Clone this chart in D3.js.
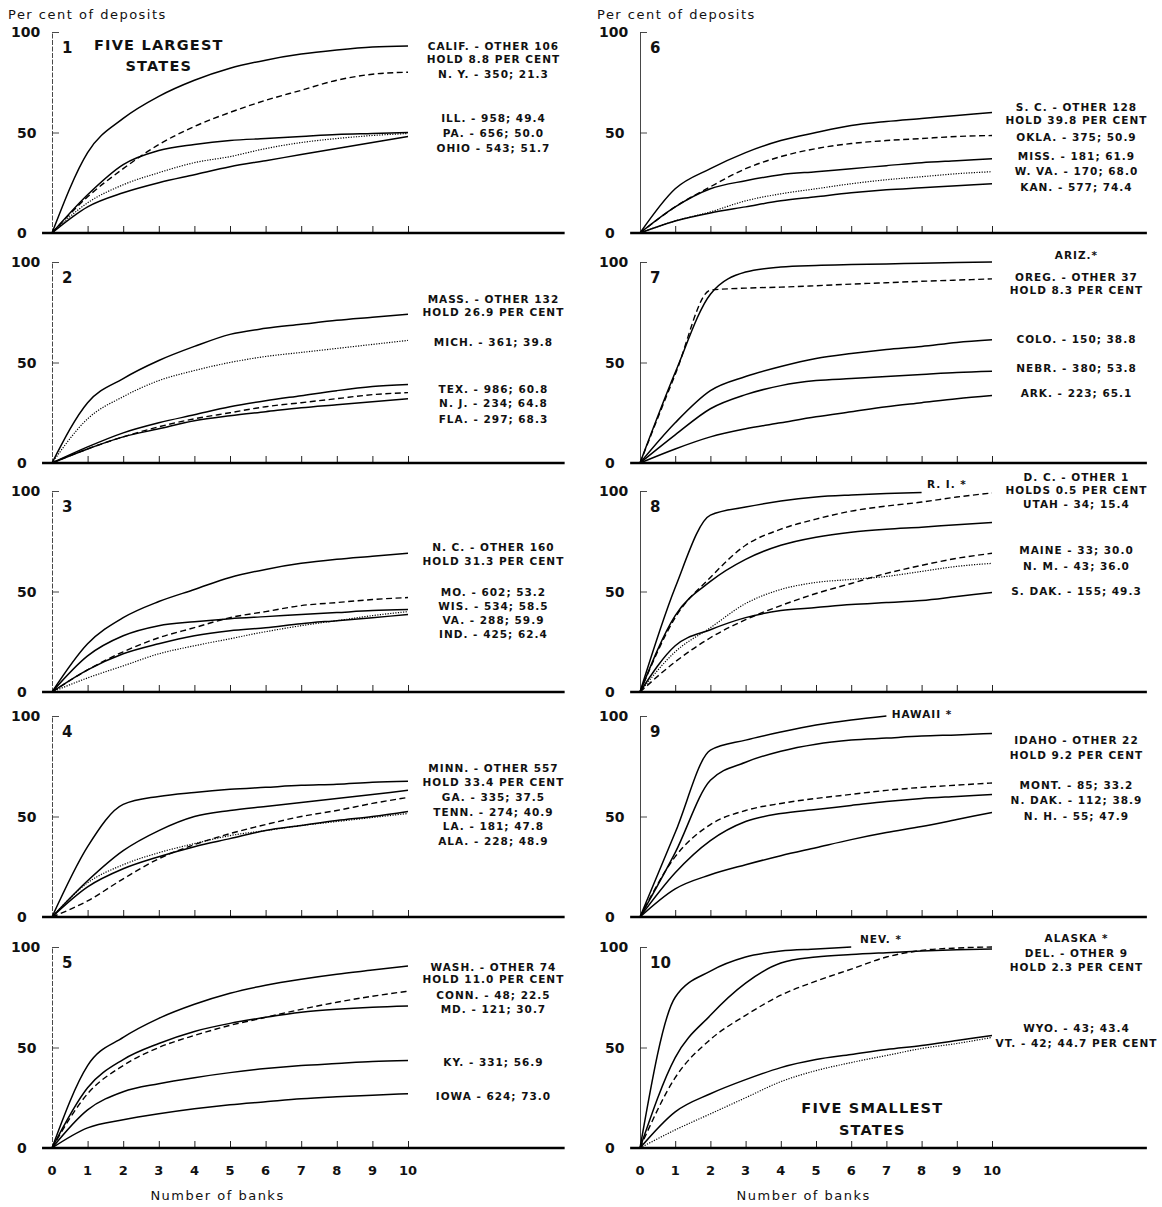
<!DOCTYPE html>
<html>
<head>
<meta charset="utf-8">
<script src="https://cdn.jsdelivr.net/npm/d3@7"></script>
<style>
body { margin: 0; background: #fff; }
svg { display: block; }
.note { font-family: 'DejaVu Sans', sans-serif; font-weight: bold; font-size: 10.5px; letter-spacing: 1px; fill: #111; }
.big { font-family: 'DejaVu Sans', sans-serif; font-weight: bold; font-size: 14.5px; letter-spacing: 1.2px; fill: #111; }
.num { font-family: 'DejaVu Sans', sans-serif; font-weight: bold; font-size: 15px; fill: #111; }
.tick-lbl { font-family: 'DejaVu Sans', sans-serif; font-weight: bold; font-size: 14px; fill: #111; }
.caption { font-family: 'DejaVu Sans', sans-serif; font-size: 13px; letter-spacing: 1.5px; fill: #111; }
</style>
</head>
<body>
<div id="chart"></div>
<script>
const banks = d3.range(0, 11)
const yTicks = [0, 50, 100]

// 1 - five largest states
const p1Values = [
  [0, 40, 57, 68, 76, 82, 86, 89, 91, 92.5, 93],
  [0, 18, 32, 44, 53, 60, 66, 71, 76, 79, 80],
  [0, 19, 34, 41, 44, 46, 47, 48, 49, 49.5, 50],
  [0, 15, 24, 30, 35, 38, 42, 45, 47, 48.5, 49.5],
  [0, 13, 20, 25, 29, 33, 36, 39, 42, 45, 48]
]
const p1Notes = ['CALIF. - OTHER 106', 'HOLD 8.8 PER CENT', 'N. Y. - 350; 21.3', 'ILL. - 958; 49.4', 'PA. - 656; 50.0', 'OHIO - 543; 51.7']

// 2
const p2Values = [
  [0, 30, 42, 51, 58, 64, 67, 69, 71, 72.5, 74],
  [0, 22, 33, 41, 46, 50, 53, 55, 57, 59, 61],
  [0, 8, 15, 20, 24, 28, 31, 33.5, 36, 38, 39],
  [0, 7, 13, 18, 22, 25, 28, 30, 32, 34, 35],
  [0, 7, 13, 17, 21, 23.5, 25.5, 27.5, 29, 30.5, 32]
]
const p2Notes = ['MASS. - OTHER 132', 'HOLD 26.9 PER CENT', 'MICH. - 361; 39.8', 'TEX. - 986; 60.8', 'N. J. - 234; 64.8', 'FLA. - 297; 68.3']

// 3
const p3Values = [
  [0, 24, 37, 45, 51, 57, 61, 64, 66, 67.5, 69],
  [0, 11, 20, 27, 32, 37, 40, 43, 44.5, 46, 47],
  [0, 18, 28, 33, 35, 36.5, 37.5, 38.5, 39.5, 40.5, 41],
  [0, 7, 13, 19, 23, 26.5, 30, 33, 35.5, 38, 40],
  [0, 11, 19, 24, 28, 30.5, 32, 34, 35.5, 37, 38.5]
]
const p3Notes = ['N. C. - OTHER 160', 'HOLD 31.3 PER CENT', 'MO. - 602; 53.2', 'WIS. - 534; 58.5', 'VA. - 288; 59.9', 'IND. - 425; 62.4']

// 4
const p4Values = [
  [0, 35, 56, 60, 62, 63.5, 64.5, 65.5, 66, 67, 67.5],
  [0, 18, 33, 43, 50, 53, 55, 57, 59, 61, 63],
  [0, 8, 19, 29, 36, 41.5, 46, 50, 53, 56.5, 59.5],
  [0, 15, 24, 30, 35, 39, 43, 45.5, 48, 50, 52.5],
  [0, 17, 26, 32, 36.5, 40.5, 43, 45.5, 47.5, 49.5, 51.5]
]
const p4Notes = ['MINN. - OTHER 557', 'HOLD 33.4 PER CENT', 'GA. - 335; 37.5', 'TENN. - 274; 40.9', 'LA. - 181; 47.8', 'ALA. - 228; 48.9']

// 5
const p5Values = [
  [0, 41, 55, 64.5, 71.5, 77, 81, 84, 86.5, 88.5, 90.5],
  [0, 27, 41, 50, 56, 61, 65, 69, 72.5, 75.5, 78],
  [0, 30, 44, 52, 58, 62, 65, 67.5, 69, 70, 70.6],
  [0, 19, 28, 32, 35, 37.5, 39.5, 41, 42, 43, 43.5],
  [0, 10, 14, 17, 19.5, 21.5, 23, 24.5, 25.5, 26.3, 27]
]
const p5Notes = ['WASH. - OTHER 74', 'HOLD 11.0 PER CENT', 'CONN. - 48; 22.5', 'MD. - 121; 30.7', 'KY. - 331; 56.9', 'IOWA - 624; 73.0']

// 6
const p6Values = [
  [0, 22, 32, 40, 46, 50, 53.5, 55.5, 57, 58.5, 60],
  [0, 13, 23, 32, 38, 42, 44.5, 46, 47, 48, 48.5],
  [0, 13, 22, 26, 29, 30.5, 32, 33.5, 35, 36, 37],
  [0, 6, 10.5, 16, 19.5, 22, 24.5, 26.5, 28, 29.5, 30.5],
  [0, 6, 10, 13, 16, 18, 20, 21.5, 22.5, 23.5, 24.5]
]
const p6Notes = ['S. C. - OTHER 128', 'HOLD 39.8 PER CENT', 'OKLA. - 375; 50.9', 'MISS. - 181; 61.9', 'W. VA. - 170; 68.0', 'KAN. - 577; 74.4']

// 7
const p7Values = [
  [0, 45, 84, 95, 97.5, 98.3, 98.7, 99, 99.4, 99.7, 100],
  [0, 44, 86, 87, 87.5, 88.2, 89, 89.7, 90.4, 91, 91.6],
  [0, 20, 36, 43, 48, 52, 54.5, 56.5, 58, 60, 61.3],
  [0, 14, 27, 34, 38.5, 41, 42, 43, 44, 45, 45.6],
  [0, 7, 13, 17, 20, 23, 25.5, 28, 30, 32, 33.6]
]
const p7Notes = ['ARIZ.*', 'OREG. - OTHER 37', 'HOLD 8.3 PER CENT', 'COLO. - 150; 38.8', 'NEBR. - 380; 53.8', 'ARK. - 223; 65.1']

// 8
const p8Values = [
  [0, 52, 88, 92, 95, 97, 98, 98.7, 99.2],
  [0, 37, 57, 73, 81, 86, 90, 92.5, 94.5, 97, 99],
  [0, 38, 55, 66, 73, 77, 79.5, 81, 82, 83.2, 84.3],
  [0, 15, 27, 36, 43, 49, 54, 59, 63, 66.5, 69],
  [0, 20, 32, 44, 51, 54.5, 56, 57.5, 60, 62.5, 64],
  [0, 23, 31, 37, 40.5, 42, 43.5, 44.5, 45.5, 47.5, 49.5]
]
const p8Notes = ['D. C. - OTHER 1', 'HOLDS 0.5 PER CENT', 'UTAH - 34; 15.4', 'MAINE - 33; 30.0', 'N. M. - 43; 36.0', 'S. DAK. - 155; 49.3']
const p8Tag = 'R. I. *'

// 9
const p9Values = [
  [0, 42, 83, 88, 92, 95.5, 98, 100],
  [0, 32, 68, 77, 82.5, 86, 88, 89, 90, 90.6, 91.3],
  [0, 30, 46, 53, 56.5, 59, 61, 63, 64.5, 65.6, 66.7],
  [0, 22, 38, 47.5, 51.5, 53.5, 55.5, 57.5, 59, 60, 61],
  [0, 14, 21, 26, 30.5, 34.5, 38.5, 42, 45, 48.5, 52]
]
const p9Notes = ['IDAHO - OTHER 22', 'HOLD 9.2 PER CENT', 'MONT. - 85; 33.2', 'N. DAK. - 112; 38.9', 'N. H. - 55; 47.9']
const p9Tag = 'HAWAII *'

// 10 - five smallest states
const p10Values = [
  [0, 75, 88, 95, 98, 99, 100],
  [0, 45, 66, 82, 92, 95, 96.3, 97.2, 98, 98.6, 99],
  [0, 35, 54, 66, 76, 83, 89, 95, 98.3, 99.5, 100],
  [0, 18, 27, 34, 40, 44, 46.5, 49, 51, 53.5, 56],
  [0, 9, 17, 25, 33, 38.5, 42.5, 46, 49.5, 52, 55]
]
const p10Notes = ['ALASKA *', 'DEL. - OTHER 9', 'HOLD 2.3 PER CENT', 'WYO. - 43; 43.4', 'VT. - 42; 44.7 PER CENT']
const p10Tag = 'NEV. *'

// layout and line styles (y positions of notes are in per cent units)
const layout = [
  {num: '1', col: 0, base: 233, values: p1Values, lines: ['s', 'd', 's', 'o', 's'], notes: p1Notes, noteAt: [93, 86.5, 79, 57, 49.5, 42.2], title: ['FIVE LARGEST', 'STATES'], titleAt: [3.0, 93.5, 83]},
  {num: '2', col: 0, base: 463, values: p2Values, lines: ['s', 'o', 's', 'd', 's'], notes: p2Notes, noteAt: [81.5, 75, 60, 36.5, 29.5, 22]},
  {num: '3', col: 0, base: 692, values: p3Values, lines: ['s', 'd', 's', 'o', 's'], notes: p3Notes, noteAt: [72, 65.3, 49.5, 42.5, 35.5, 28.5]},
  {num: '4', col: 0, base: 917, values: p4Values, lines: ['s', 's', 'd', 's', 'o'], notes: p4Notes, noteAt: [74, 67.3, 59.5, 52.2, 45, 37.7]},
  {num: '5', col: 0, base: 1148, values: p5Values, lines: ['s', 'd', 's', 's', 's'], notes: p5Notes, noteAt: [90, 83.8, 76.2, 69, 42.5, 25.7], bottom: true},
  {num: '6', col: 1, base: 233, values: p6Values, lines: ['s', 'd', 's', 'o', 's'], notes: p6Notes, noteAt: [62.7, 56, 47.8, 38.3, 30.8, 22.9]},
  {num: '7', col: 1, base: 463, values: p7Values, lines: ['s', 'd', 's', 's', 's'], notes: p7Notes, noteAt: [103.5, 92.5, 86, 61.7, 47.3, 34.8]},
  {num: '8', col: 1, base: 692, values: p8Values, lines: ['s', 'd', 's', 'd', 'o', 's'], notes: p8Notes, noteAt: [107, 100.5, 93.2, 70.6, 62.7, 50.3], tag: p8Tag, tagAt: [8.15, 103.5]},
  {num: '9', col: 1, base: 917, values: p9Values, lines: ['s', 's', 'd', 's', 's'], notes: p9Notes, noteAt: [87.8, 80.3, 65.7, 58.2, 50.3], tag: p9Tag, tagAt: [7.15, 100.8]},
  {num: '10', col: 1, base: 1148, values: p10Values, lines: ['s', 's', 'd', 's', 'o'], notes: p10Notes, noteAt: [104.3, 96.8, 89.8, 59.8, 52.3], tag: p10Tag, tagAt: [6.25, 103.8], title: ['FIVE SMALLEST', 'STATES'], titleAt: [6.6, 20.2, 9.2], bottom: true}
]

const dashes = {s: null, d: '6,3.5', o: '1.2,1.4'}
const widths = {s: 1.5, d: 1.4, o: 1.2}

const svg = d3.select('#chart').append('svg')
.attr('width', 1162)
.attr('height', 1207)

// y-axis captions
svg.selectAll('.ycap')
.data([8, 597])
.enter()
.append('text')
.attr('class', 'caption')
.attr('x', d => d)
.attr('y', 19)
.text('Per cent of deposits')

layout.forEach(p => {

	const x = d3.scaleLinear().domain([0, 10]).range(p.col === 0 ? [52, 408] : [640, 992])
	const y = d3.scaleLinear().domain([0, 100]).range([p.base, p.base - 201])

	const g = svg.append('g')

	// thin y axis with inward ticks
	const yAxis = g.append('g')
	.attr('transform', `translate(${x(0)},0)`)
	.call(d3.axisRight(y).tickValues([50, 100]).tickSize(7).tickSizeOuter(0).tickFormat(''))

	yAxis.select('.domain')
	.attr('stroke', '#333')
	.attr('stroke-width', 0.9)
	.attr('stroke-dasharray', p.col === 0 ? '5,1.5' : null)

	yAxis.selectAll('.tick line')
	.attr('stroke', '#333')
	.attr('stroke-width', 0.9)

	// y tick labels
	g.selectAll('.ylbl')
	.data(yTicks)
	.enter()
	.append('text')
	.attr('class', 'tick-lbl')
	.attr('x', d => x(0) - (d === 100 ? 41 : 35))
	.attr('y', d => y(d))
	.attr('dy', '0.36em')
	.text(d => d)

	// small bank ticks
	g.append('g')
	.attr('transform', `translate(0,${y(0)})`)
	.call(d3.axisTop(x).tickValues(d3.range(1, 11)).tickSize(7).tickSizeOuter(0).tickFormat(''))
	.call(a => a.select('.domain').remove())
	.selectAll('.tick line')
	.attr('stroke', '#222')
	.attr('stroke-width', 1)

	// heavy base line
	g.append('line')
	.attr('x1', x(-0.28))
	.attr('x2', x(14.4))
	.attr('y1', y(0))
	.attr('y2', y(0))
	.attr('stroke', '#000')
	.attr('stroke-width', 2.6)

	// curves
	const line = d3.line()
	.x((d, i) => x(banks[i]))
	.y(d => y(d))
	.curve(d3.curveMonotoneX)

	g.selectAll('.curve')
	.data(p.values)
	.enter()
	.append('path')
	.attr('d', line)
	.attr('fill', 'none')
	.attr('stroke', '#000')
	.attr('stroke-width', (d, i) => widths[p.lines[i]])
	.attr('stroke-dasharray', (d, i) => dashes[p.lines[i]])

	// panel number
	g.append('text')
	.attr('class', 'num')
	.attr('x', x(0) + 10)
	.attr('y', y(92))
	.attr('dy', '0.36em')
	.text(p.num)

	// notes
	g.selectAll('.note')
	.data(p.notes)
	.enter()
	.append('text')
	.attr('class', 'note')
	.attr('x', x(12.4))
	.attr('y', (d, i) => y(p.noteAt[i]))
	.attr('dy', '0.36em')
	.attr('text-anchor', 'middle')
	.text(d => d)

	if(p.tag)
	{
		g.append('text')
		.attr('class', 'note')
		.attr('x', x(p.tagAt[0]))
		.attr('y', y(p.tagAt[1]))
		.attr('dy', '0.36em')
		.text(p.tag)
	}

	if(p.title)
	{
		g.selectAll('.big')
		.data(p.title)
		.enter()
		.append('text')
		.attr('class', 'big')
		.attr('x', x(p.titleAt[0]))
		.attr('y', (d, i) => y(p.titleAt[i + 1]))
		.attr('dy', '0.36em')
		.attr('text-anchor', 'middle')
		.text(d => d)
	}

	if(p.bottom)
	{
		g.selectAll('.xlbl')
		.data(banks)
		.enter()
		.append('text')
		.attr('class', 'tick-lbl')
		.style('font-size', '13px')
		.attr('x', d => x(d))
		.attr('y', y(0) + 22)
		.attr('dy', '0.36em')
		.attr('text-anchor', 'middle')
		.text(d => d)

		g.append('text')
		.attr('class', 'caption')
		.attr('x', x(4.65))
		.attr('y', y(0) + 47)
		.attr('dy', '0.36em')
		.attr('text-anchor', 'middle')
		.text('Number of banks')
	}
})
</script>
</body>
</html>
